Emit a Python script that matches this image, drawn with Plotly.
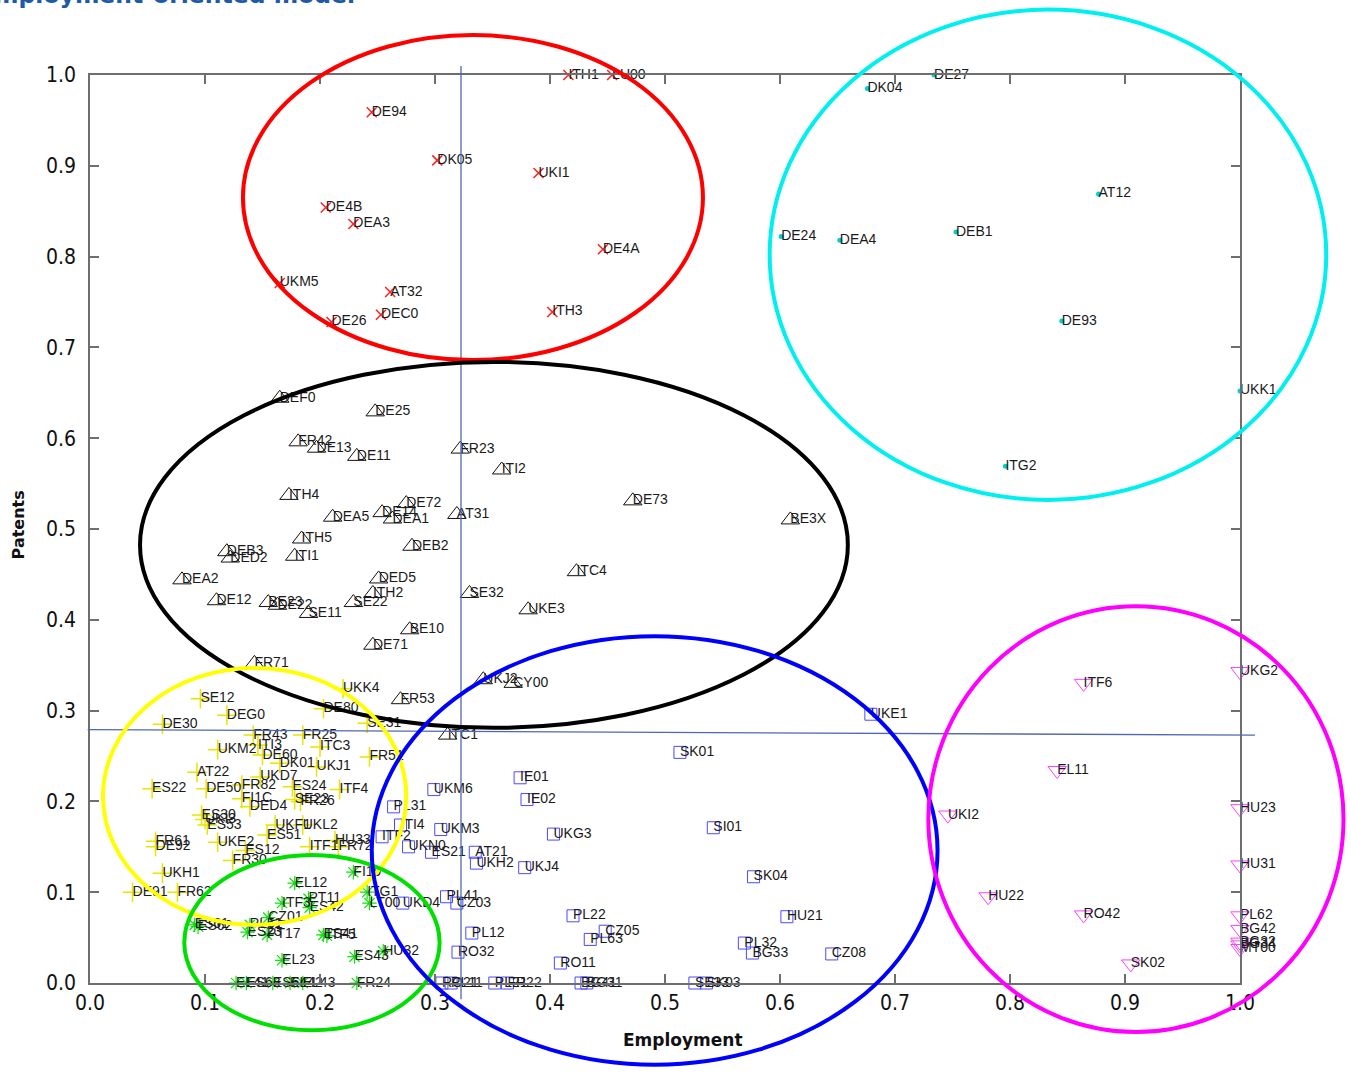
import plotly.graph_objects as go

# ---------------- data ----------------
RED_NAMES = ["ITH1", "LU00", "DE94", "DK05", "UKI1", "DE4B", "DEA3", "DE4A", "UKM5", "AT32", "DEC0", "DE26", "ITH3"]
RED_X = [0.416, 0.454, 0.245, 0.302, 0.390, 0.205, 0.229, 0.446, 0.165, 0.261, 0.253, 0.210, 0.402]
RED_Y = [1.0, 1.0, 0.959, 0.906, 0.892, 0.854, 0.836, 0.808, 0.771, 0.761, 0.736, 0.728, 0.739]

CYAN_NAMES = ["DE27", "DK04", "AT12", "DE24", "DEA4", "DEB1", "DE93", "UKK1", "ITG2"]
CYAN_X = [0.734, 0.676, 0.877, 0.601, 0.652, 0.753, 0.845, 1.0, 0.796]
CYAN_Y = [1.0, 0.985, 0.869, 0.822, 0.818, 0.827, 0.729, 0.652, 0.569]

BLACK_NAMES = ["DEF0", "DE25", "FR42", "DE13", "DE11", "FR23", "ITI2", "ITH4", "DEA5", "DE14", "DEA1",
               "DE72", "AT31", "DE73", "BE3X", "ITH5", "ITI1", "DEB2", "DEB3", "DED2", "DEA2", "DED5",
               "ITH2", "DE12", "BE23", "DE22", "SE11", "SE22", "BE10", "DE71", "ITC4", "SE32", "UKE3",
               "UKJ2", "CY00", "FR53", "ITC1", "FR71"]
BLACK_X = [0.165, 0.248, 0.181, 0.197, 0.232, 0.322, 0.358, 0.173, 0.211, 0.254, 0.263,
           0.275, 0.319, 0.472, 0.609, 0.184, 0.178, 0.280, 0.119, 0.122, 0.080, 0.251,
           0.246, 0.110, 0.155, 0.163, 0.190, 0.229, 0.278, 0.246, 0.423, 0.330, 0.381,
           0.342, 0.368, 0.270, 0.311, 0.143]
BLACK_Y = [0.644, 0.629, 0.596, 0.589, 0.580, 0.588, 0.565, 0.537, 0.513, 0.518, 0.511,
           0.528, 0.516, 0.531, 0.510, 0.489, 0.470, 0.481, 0.475, 0.468, 0.444, 0.445,
           0.429, 0.421, 0.419, 0.416, 0.407, 0.419, 0.389, 0.372, 0.453, 0.429, 0.411,
           0.334, 0.330, 0.312, 0.273, 0.352]

YELLOW_NAMES = ["SE12", "DEG0", "DE30", "UKK4", "DE80", "SE31", "FR43", "ITI3", "DE60", "FR25", "UKM2",
                "ITC3", "DK01", "UKJ1", "FR51", "AT22", "UKD7", "ES22", "DE50", "FR82", "ES24", "ITF4",
                "FI1C", "DED4", "SE23", "FR26", "ES30", "UKI3", "ES53", "UKF1", "UKL2", "ES51", "UKE2",
                "FR61", "DE92", "ES12", "FR30", "ITF1", "HU33", "FR72", "UKH1", "DE91", "FR62"]
YELLOW_X = [0.096, 0.119, 0.063, 0.220, 0.203, 0.241, 0.142, 0.146, 0.150, 0.185, 0.111,
            0.200, 0.165, 0.197, 0.243, 0.093, 0.148, 0.054, 0.101, 0.132, 0.176, 0.217,
            0.132, 0.139, 0.178, 0.183, 0.097, 0.100, 0.102, 0.161, 0.185, 0.154, 0.111,
            0.057, 0.057, 0.135, 0.124, 0.191, 0.213, 0.216, 0.063, 0.037, 0.076]
YELLOW_Y = [0.313, 0.295, 0.285, 0.324, 0.302, 0.286, 0.273, 0.262, 0.251, 0.273, 0.257,
            0.260, 0.242, 0.238, 0.249, 0.232, 0.227, 0.214, 0.214, 0.218, 0.216, 0.213,
            0.203, 0.194, 0.202, 0.200, 0.185, 0.180, 0.174, 0.174, 0.174, 0.163, 0.155,
            0.156, 0.150, 0.146, 0.135, 0.150, 0.157, 0.150, 0.121, 0.100, 0.100]

GREEN_NAMES = ["FI19", "EL12", "ITF3", "PT11", "ES42", "ITG1", "LT00", "CZ01", "ES61", "ES62", "PL51",
               "ES23", "PT17", "ES41", "ITF5", "EL23", "ES43", "HU32", "EL41", "ES63", "ES64", "EL42",
               "EL43", "FR24"]
GREEN_X = [0.229, 0.178, 0.167, 0.190, 0.191, 0.241, 0.243, 0.155, 0.091, 0.094, 0.139,
           0.137, 0.154, 0.203, 0.206, 0.167, 0.230, 0.255, 0.127, 0.136, 0.159, 0.174,
           0.185, 0.232]
GREEN_Y = [0.122, 0.110, 0.088, 0.093, 0.083, 0.100, 0.088, 0.072, 0.064, 0.062, 0.064,
           0.056, 0.053, 0.053, 0.052, 0.025, 0.029, 0.035, 0.0, 0.0, 0.0, 0.0,
           0.0, 0.0]

BLUE_NAMES = ["SK01", "IE01", "IE02", "UKM6", "PL31", "ITI4", "UKM3", "ITF2", "UKN0", "ES21", "AT21",
              "UKH2", "UKJ4", "UKG3", "SI01", "SK04", "PL41", "CZ03", "UKD4", "PL12", "RO32", "PL22",
              "CZ05", "PL63", "RO11", "HU21", "PL32", "BG33", "CZ08", "UKE1", "RO21", "PL11", "PL21",
              "FR22", "BG41", "BG31", "SE33", "SK03"]
BLUE_X = [0.513, 0.374, 0.380, 0.299, 0.264, 0.270, 0.305, 0.254, 0.277, 0.297, 0.335,
          0.336, 0.378, 0.403, 0.542, 0.577, 0.310, 0.319, 0.272, 0.332, 0.320, 0.420,
          0.448, 0.435, 0.409, 0.606, 0.569, 0.576, 0.645, 0.679, 0.306, 0.314, 0.352,
          0.363, 0.427, 0.432, 0.526, 0.536]
BLUE_Y = [0.254, 0.226, 0.202, 0.213, 0.194, 0.174, 0.169, 0.161, 0.150, 0.144, 0.144,
          0.132, 0.127, 0.164, 0.171, 0.117, 0.095, 0.088, 0.088, 0.055, 0.034, 0.074,
          0.057, 0.048, 0.022, 0.073, 0.044, 0.033, 0.032, 0.296, 0.0, 0.0, 0.0,
          0.0, 0.0, 0.0, 0.0, 0.0]

MAG_NAMES = ["ITF6", "UKG2", "EL11", "UKI2", "HU23", "HU31", "HU22", "RO42", "PL62", "BG42", "BG32",
             "BG34", "MT00", "SK02"]
MAG_X = [0.864, 1.0, 0.841, 0.746, 1.0, 1.0, 0.781, 0.864, 1.0, 1.0, 1.0, 1.0, 1.0, 0.905]
MAG_Y = [0.330, 0.343, 0.234, 0.185, 0.192, 0.130, 0.095, 0.075, 0.074, 0.059, 0.045, 0.042, 0.038, 0.021]

# cluster ellipses: (x0, x1, y0, y1) in data units, colour
ELLIPSES = [
    (0.133, 0.533, 0.686, 1.044, "#ff0000"),
    (0.591, 1.075, 0.532, 1.072, "#00f0f0"),
    (0.0435, 0.659, 0.281, 0.684, "#000000"),
    (0.0113, 0.275, 0.064, 0.347, "#ffff00"),
    (0.082, 0.304, -0.052, 0.141, "#00e000"),
    (0.245, 0.737, -0.090, 0.382, "#0000ff"),
    (0.729, 1.090, -0.054, 0.415, "#ff00ff"),
]
MEAN_EMPLOYMENT = 0.3226
MEAN_PATENTS_LEFT = 0.279
MEAN_PATENTS_RIGHT = 0.273

XR = [0.0, 1.0]
YR = [0.0, 1.0]
TICKS = [round(i * 0.1, 1) for i in range(11)]


def to_px(v):
    return (v - XR[0]) / (XR[1] - XR[0])


def to_py(v):
    return (v - YR[0]) / (YR[1] - YR[0])


LABEL_FONT = dict(family="Liberation Sans, Arial, sans-serif", size=14, color="#1a1a1a")

groups = [
    (RED_NAMES, RED_X, RED_Y, dict(symbol="x-thin", size=10, color="#ff2020", line=dict(color="#ff2020", width=1.5))),
    (CYAN_NAMES, CYAN_X, CYAN_Y, dict(symbol="circle", size=5, color="#00d0d0", line=dict(width=0))),
    (BLACK_NAMES, BLACK_X, BLACK_Y, dict(symbol="triangle-up-open", size=16, color="#111111", line=dict(color="#111111", width=1))),
    (YELLOW_NAMES, YELLOW_X, YELLOW_Y, dict(symbol="cross-thin", size=14, color="#e6e600", line=dict(color="#e6e600", width=1.5))),
    (GREEN_NAMES, GREEN_X, GREEN_Y, dict(symbol="asterisk", size=12, color="#10e010", line=dict(color="#10e010", width=1.2))),
    (BLUE_NAMES, BLUE_X, BLUE_Y, dict(symbol="square-open", size=12, color="#4a4aff", line=dict(color="#4a4aff", width=1))),
    (MAG_NAMES, MAG_X, MAG_Y, dict(symbol="triangle-down-open", size=16, color="#ff40ff", line=dict(color="#ff40ff", width=1))),
]

fig = go.Figure()
for names, xs, ys, mk in groups:
    fig.add_trace(go.Scatter(x=xs, y=ys, mode="markers", marker=mk, cliponaxis=False,
                             hoverinfo="skip", showlegend=False))
for names, xs, ys, mk in groups:
    fig.add_trace(go.Scatter(x=xs, y=ys, mode="text", text=names, textposition="middle right",
                             textfont=LABEL_FONT, cliponaxis=False, showlegend=False, hoverinfo="skip"))

shapes = []
# mean lines
shapes.append(dict(type="line", xref="paper", yref="paper",
                   x0=to_px(MEAN_EMPLOYMENT), x1=to_px(MEAN_EMPLOYMENT),
                   y0=to_py(-0.018), y1=to_py(1.01),
                   line=dict(color="#5068b0", width=1.3), layer="above"))
shapes.append(dict(type="line", xref="paper", yref="paper",
                   x0=to_px(-0.002), x1=to_px(1.013),
                   y0=to_py(MEAN_PATENTS_LEFT), y1=to_py(MEAN_PATENTS_RIGHT),
                   line=dict(color="#5068b0", width=1.3), layer="above"))
for x0, x1, y0, y1, col in ELLIPSES:
    shapes.append(dict(type="circle", xref="paper", yref="paper",
                       x0=to_px(x0), x1=to_px(x1), y0=to_py(y0), y1=to_py(y1),
                       line=dict(color=col, width=4), layer="above"))

axis_common = dict(
    showline=True, linecolor="#6e6e6e", linewidth=1.5, mirror="ticks",
    ticks="inside", ticklen=9, tickcolor="#6e6e6e", tickwidth=1.5,
    showgrid=False, zeroline=False, tickvals=TICKS, ticktext=[f"{t:.1f}" for t in TICKS],
    tickfont=dict(family="Liberation Sans Narrow, DejaVu Sans Condensed, sans-serif", size=21, color="#111"),
)

fig.update_layout(
    width=1351, height=1073,
    margin=dict(l=90, r=111, t=75, b=90),
    paper_bgcolor="white", plot_bgcolor="white",
    xaxis=dict(range=XR, **axis_common),
    yaxis=dict(range=YR, ticklabelstandoff=8, **axis_common),
    shapes=shapes,
    annotations=[
        dict(text="<b>Employment-oriented model</b>", xref="paper", yref="paper",
             x=0.232, y=1.0705, xanchor="right", yanchor="bottom", showarrow=False,
             font=dict(family="DejaVu Sans, sans-serif", size=23.5, color="#1f5aa6")),
        dict(text="<b>Patents</b>", xref="paper", yref="paper", x=-0.0626, y=0.504,
             textangle=-90, showarrow=False, xanchor="center", yanchor="middle",
             font=dict(family="DejaVu Sans, sans-serif", size=16, color="#111")),
        dict(text="<b>Employment</b>", xref="paper", yref="paper", x=0.516, y=-0.0628,
             showarrow=False, xanchor="center", yanchor="middle",
             font=dict(family="DejaVu Sans, sans-serif", size=17, color="#111")),
    ],
)

fig.write_html("out.html")
